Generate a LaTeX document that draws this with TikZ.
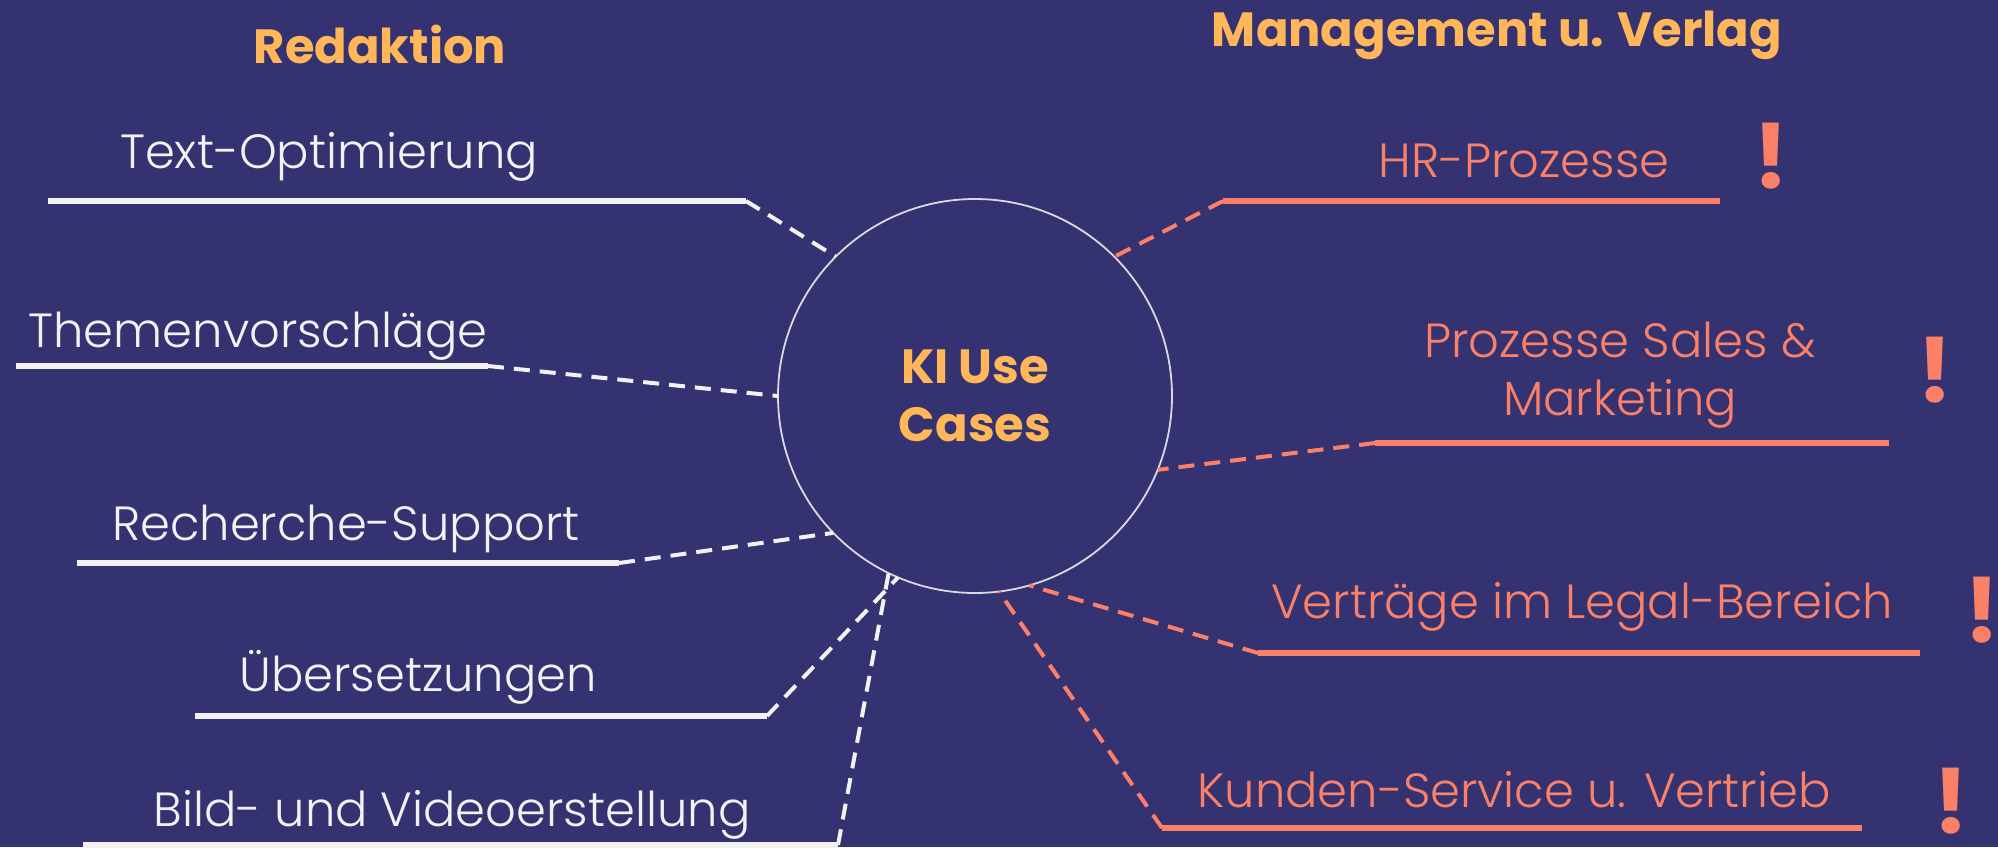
\documentclass[tikz,border=0pt]{standalone}
\usepackage{fontspec}
\setmainfont{Poppins}[UprightFont=* Light,BoldFont=* Bold]
\usetikzlibrary{calc}
\definecolor{bgpurple}{RGB}{53,50,113}
\definecolor{gold}{RGB}{255,183,90}
\definecolor{coral}{RGB}{250,128,104}
\definecolor{offwhite}{RGB}{242,242,242}
\definecolor{ringgrey}{RGB}{218,218,222}

\begin{document}
\begin{tikzpicture}[x=0.5pt,y=-0.5pt,
  head/.style={font=\bfseries\fontsize{24}{29}\selectfont, text=gold, inner sep=0},
  item/.style={font=\fontsize{24}{29}\selectfont, inner sep=0, anchor=base, align=center},
  bar/.style={line width=3.3pt},
  link/.style={line width=2pt, dash pattern=on 8pt off 5pt},
  bang/.style={font=\bfseries\fontsize{45}{45}\selectfont, text=coral, anchor=base, inner sep=0}]
\fill[bgpurple] (0,0) rectangle (1998,847);
\useasboundingbox (0,0) rectangle (1998,847);

% centre
\node[circle, draw=ringgrey, line width=0.9pt, minimum size=197pt, inner sep=0, outer sep=0] (ki) at (975,396) {};
\node[head, align=center] (kitext) at (ki) {KI Use\\Cases};

% headings
\node[head, anchor=base] (red) at (380,63) {Redaktion};
\node[head, anchor=base] (mgmt) at (1497,46) {Management u. Verlag};

% Redaktion
\foreach \n/\txt/\cx/\by/\xa/\xb/\ly/\ang in {
  1/Text-Optimierung/329/168/48/746/201/135,
  2/Themenvorschläge/258/347/16/488/366/180,
  3/Recherche-Support/346/540/77/619/563/224,
  4/Übersetzungen/418/691/195/767/716/247,
  5/Bild- und Videoerstellung/452/826/83/838/845/244}{
  \node[item, text=offwhite] (l\n) at (\cx,\by) {\txt};
  \coordinate (la\n) at (\xa,\ly);
  \coordinate (lb\n) at (\xb,\ly);
  \draw[bar, offwhite] (la\n) -- (lb\n);
  \draw[link, offwhite] (lb\n) -- (ki.\ang);
}

% Management u. Verlag (base = last line)
\foreach \n/\txt/\cx/\by/\xa/\xb/\ly/\ang/\bx/\bb in {
  1/HR-Prozesse/1524/177/1223/1720/201/45/1771/188,
  2/{Prozesse Sales \&\\Marketing}/1620/415/1375/1889/443/338/1935/402,
  3/Verträge im Legal-Bereich/1582/618/1258/1920/653/286/1982/642,
  4/Kunden-Service u. Vertrieb/1514/807/1162/1862/828/277/1951/833}{
  \node[item, text=coral] (r\n) at (\cx,\by) {\txt};
  \coordinate (ra\n) at (\xa,\ly);
  \coordinate (rb\n) at (\xb,\ly);
  \draw[bar, coral] (ra\n) -- (rb\n);
  \draw[link, coral] (ra\n) -- (ki.\ang);
  \node[bang] (x\n) at (\bx,\bb) {!};
}
\end{tikzpicture}
\end{document}
